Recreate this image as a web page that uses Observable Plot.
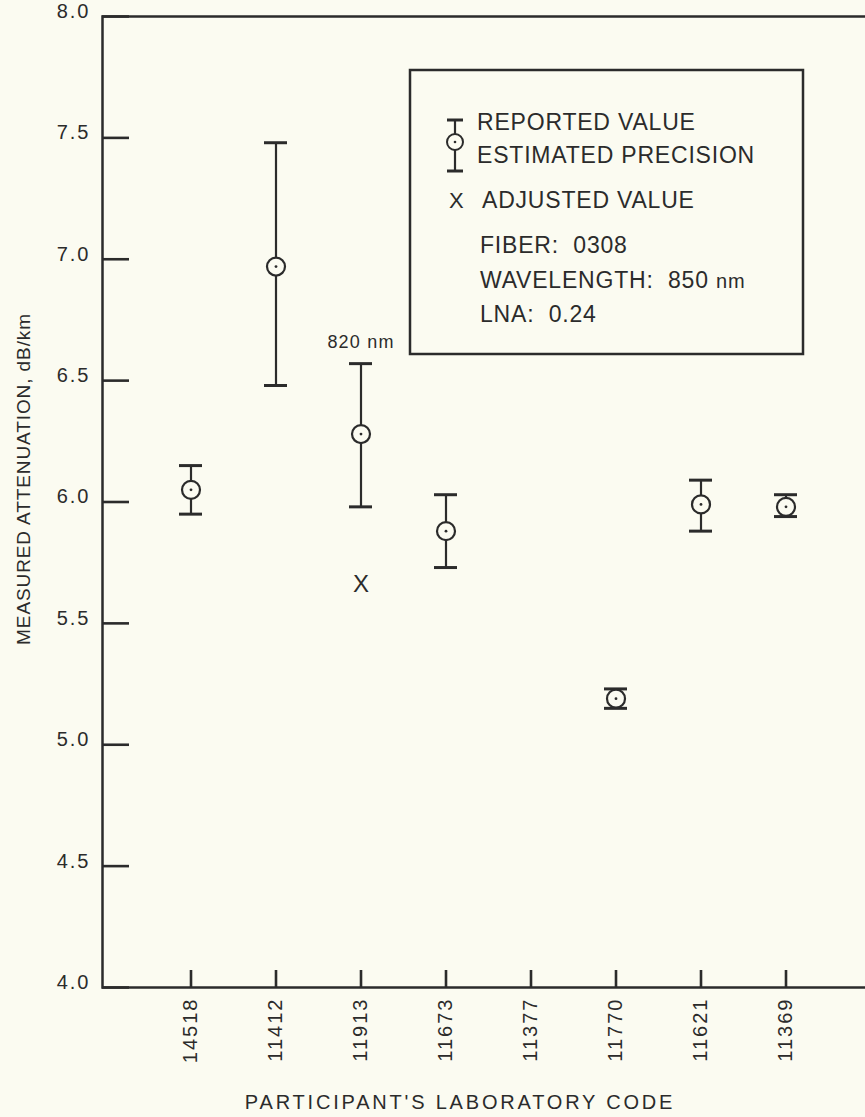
<!DOCTYPE html>
<html>
<head>
<meta charset="utf-8">
<script src="https://cdn.jsdelivr.net/npm/d3@7"></script>
<script src="https://cdn.jsdelivr.net/npm/@observablehq/plot@0.6"></script>
<style>
  html, body { margin: 0; padding: 0; background: #fbfbf1; overflow: hidden; }
  #wrap { position: relative; width: 865px; height: 1117px; overflow: hidden; }
  #wrap > svg { position: absolute; left: 0; top: 0; }
</style>
</head>
<body>
<div id="wrap"></div>
<script>
// ---- data ----
const codes = ["14518", "11412", "11913", "11673", "11377", "11770", "11621", "11369"];
const reported = [6.05, 6.97, 6.28, 5.88, null, 5.19, 5.99, 5.98];
const upper    = [6.15, 7.48, 6.57, 6.03, null, 5.23, 6.09, 6.03];
const lower    = [5.95, 6.48, 5.98, 5.73, null, 5.15, 5.88, 5.94];
const adjustedCodes  = ["11913"];
const adjustedValues = [5.66];
const noteCodes = ["11913"];
const noteTexts = ["820 nm"];
const yTicks = [4.0, 4.5, 5.0, 5.5, 6.0, 6.5, 7.0, 7.5, 8.0];
const xTitle = "PARTICIPANT'S LABORATORY CODE";
const yTitle = "MEASURED ATTENUATION, dB/km";
const legendTexts = ["REPORTED VALUE", "ESTIMATED PRECISION", "X", "ADJUSTED VALUE",
                     "FIBER:\u00a0 0308", "WAVELENGTH:\u00a0 850\u00a0", "nm", "LNA:\u00a0 0.24"];

// ---- tables ----
const rows = codes.map((code, i) => ({code, value: reported[i], hi: upper[i], lo: lower[i]}))
                  .filter(d => d.value != null);
const adjusted = adjustedCodes.map((code, i) => ({code, value: adjustedValues[i]}));
const notes = noteCodes.map((code, i) => ({code, text: noteTexts[i], y: rows.find(r => r.code === code).hi}));

const ink = "#2b2b2b";
const bg = "#fbfbf1";
const font = "'Liberation Sans', Arial, Helvetica, sans-serif";

const chart = Plot.plot({
  width: 865,
  height: 1117,
  marginTop: 16,
  marginBottom: 130,
  marginLeft: 102,
  marginRight: 0,
  style: {background: "transparent", fontFamily: font, color: ink},
  x: {type: "band", domain: codes, paddingInner: 0, paddingOuter: 0.47, align: 0.56},
  y: {domain: [4, 8]},
  marks: [
    Plot.frame({stroke: ink, strokeWidth: 2.5, insetRight: -40}),
    Plot.axisY(yTicks, {tickSize: -27, tickFormat: () => "", strokeWidth: 2.6, label: null}),
    Plot.axisY(yTicks, {tickSize: 0, tickPadding: 12, dy: -5, tickFormat: d3.format(".1f"), fontSize: 20, label: null}),
    Plot.axisX(codes, {tickSize: -17, tickPadding: 27, tickRotate: -90, fontSize: 20, strokeWidth: 2.6, label: null}),
    Plot.ruleX(rows, {x: "code", y1: "lo", y2: "hi", stroke: ink, strokeWidth: 2.2}),
    Plot.tickY(rows, {x: "code", y: "hi", stroke: ink, strokeWidth: 3, inset: 31}),
    Plot.tickY(rows, {x: "code", y: "lo", stroke: ink, strokeWidth: 3, inset: 31}),
    Plot.dot(rows, {x: "code", y: "value", r: 9, stroke: ink, strokeWidth: 2.2, fill: bg}),
    Plot.dot(rows, {x: "code", y: "value", r: 1.4, fill: ink, stroke: null}),
    Plot.text(adjusted, {x: "code", y: "value", text: () => "X", fontSize: 24, fill: ink}),
    Plot.text(notes, {x: "code", y: "y", text: "text", fontSize: 18, dy: -21, fill: ink}),
    Plot.text([yTitle], {text: d => d, frameAnchor: "left", textAnchor: "middle", lineAnchor: "middle",
                         rotate: -90, dx: -79, dy: -23, fontSize: 19, fill: ink}),
    Plot.text([xTitle], {text: d => d, frameAnchor: "bottom", textAnchor: "middle", lineAnchor: "middle",
                         dx: -24, dy: 115, fontSize: 20, fill: ink})
  ]
});

const wrap = document.getElementById("wrap");
wrap.appendChild(chart);

const svg = d3.select(chart);
svg.selectAll('g[aria-label="y-axis tick label"] text').style("letter-spacing", "2px");
svg.selectAll('g[aria-label="x-axis tick label"] text').style("letter-spacing", "2px");
svg.selectAll("text").each(function () {
  const t = this.textContent;
  if (t === xTitle) this.style.letterSpacing = "2.8px";
  if (t === yTitle) this.style.letterSpacing = "0.9px";
  if (noteTexts.includes(t)) this.style.letterSpacing = "1.2px";
});

// ---- legend box (overlay) ----
const lg = d3.create("svg")
  .attr("width", 865).attr("height", 400)
  .style("position", "absolute").style("left", "0px").style("top", "0px")
  .attr("font-family", font).attr("fill", ink);
lg.append("rect").attr("x", 410).attr("y", 70).attr("width", 393).attr("height", 284)
  .attr("fill", "none").attr("stroke", ink).attr("stroke-width", 2.5);
const icon = lg.append("g").attr("stroke", ink);
icon.append("line").attr("x1", 455).attr("x2", 455).attr("y1", 120).attr("y2", 171).attr("stroke-width", 2.2);
icon.append("line").attr("x1", 447).attr("x2", 463).attr("y1", 120).attr("y2", 120).attr("stroke-width", 3);
icon.append("line").attr("x1", 447).attr("x2", 463).attr("y1", 171).attr("y2", 171).attr("stroke-width", 3);
icon.append("circle").attr("cx", 455).attr("cy", 142).attr("r", 8).attr("fill", bg).attr("stroke-width", 2);
icon.append("circle").attr("cx", 455).attr("cy", 142).attr("r", 1.3).attr("fill", ink).attr("stroke", "none");
const lt = (s, x, y, size) => lg.append("text").attr("x", x).attr("y", y).attr("font-size", size)
  .style("letter-spacing", "0.8px").text(s);
lt(legendTexts[0], 477, 130, 23);
lt(legendTexts[1], 477, 163, 23);
lt(legendTexts[2], 449, 208, 22);
lt(legendTexts[3], 482, 208, 23);
lt(legendTexts[4], 480, 253, 23);
const wl = lt(legendTexts[5], 480, 288, 23);
wl.append("tspan").attr("font-size", 20).text(legendTexts[6]);
lt(legendTexts[7], 480, 322, 23);
wrap.appendChild(lg.node());
</script>
</body>
</html>
